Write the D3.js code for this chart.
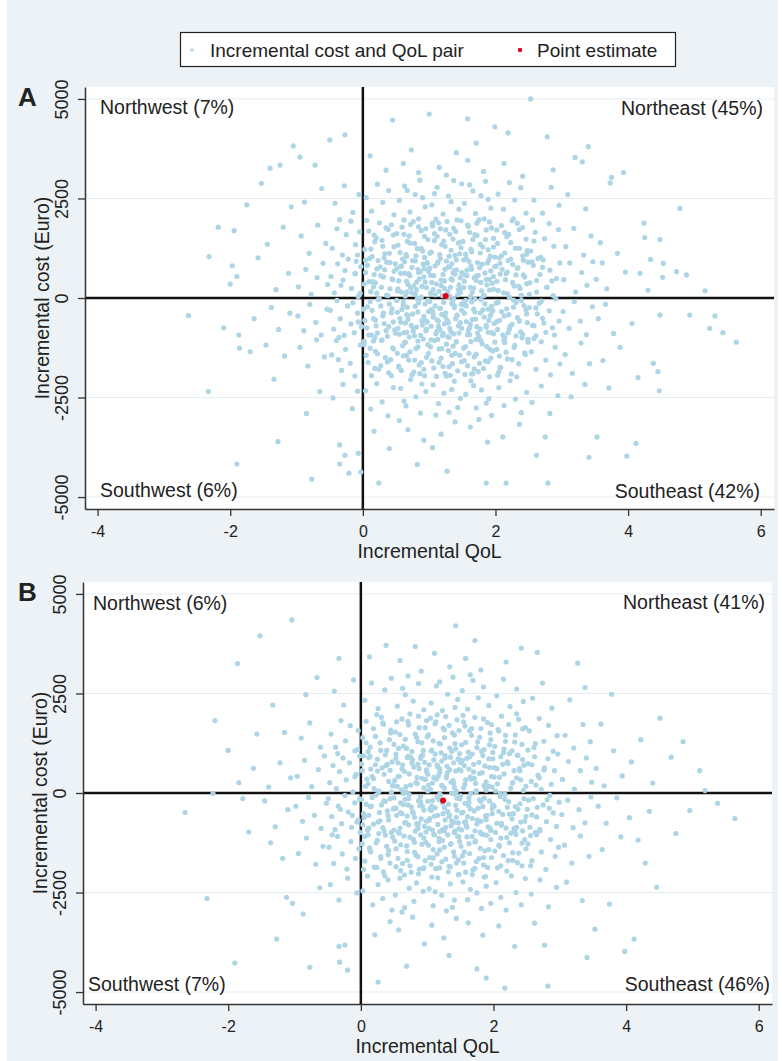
<!DOCTYPE html>
<html>
<head>
<meta charset="utf-8">
<script src="https://cdn.jsdelivr.net/npm/d3@7"></script>
<style>
body { margin: 0; background: #fff; }
svg text { font-family: "Liberation Sans", Arial, sans-serif; fill: #222; }
</style>
</head>
<body>
<svg id="chart" width="782" height="1061"></svg>
<script>
// Chart values
//-------------------------------------------------------
var qolTicks = [-4, -2, 0, 2, 4, 6];
var costTicks = [-5000, -2500, 0, 2500, 5000];
var legendLabels = ["Incremental cost and QoL pair", "Point estimate"];
var quadrantLabelsA = ["Northwest (7%)", "Northeast (45%)", "Southwest (6%)", "Southeast (42%)"];
var quadrantLabelsB = ["Northwest (6%)", "Northeast (41%)", "Southwest (7%)", "Southeast (46%)"];
var estimateA = [1.25, 50];
var estimateB = [1.24, -190];

// bootstrap pairs [incremental QoL, incremental cost]
var pairsA = [
[1.02,120],[1.07,560],[1.13,880],[1.18,310],[1.24,720],[1.29,40],[1.35,450],[1.41,960],[1.46,230],[1.49,640],
[1.04,390],[1.09,810],[1.15,170],[1.21,590],[1.26,930],[1.32,270],[1.38,690],[1.43,80],[1.47,510],[1.11,350],
[1.01,750],[1.06,210],[1.17,990],[1.23,430],[1.28,160],[1.34,860],[1.39,600],[1.45,330],[1.20,60],[1.31,780],
[1.03,1150],[1.08,1620],[1.14,1890],[1.19,1340],[1.25,1710],[1.30,1050],[1.36,1480],[1.42,1960],[1.48,1260],[1.12,1550],
[1.05,1810],[1.16,1090],[1.22,1430],[1.27,1920],[1.33,1200],[1.40,1670],[1.44,1380],[1.10,1980],[1.37,1750],[1.46,1110],
[1.04,2340],[1.12,2780],[1.21,2110],[1.29,2560],[1.37,2950],[1.45,2230],[1.08,2620],[1.33,2420],[1.49,2870],
[1.15,3280],[1.41,3650],[1.26,3090],[1.00,4620],
[1.01,-90],[1.06,-480],[1.12,-830],[1.17,-260],[1.23,-650],[1.28,-970],[1.34,-140],[1.40,-520],[1.45,-880],[1.49,-310],
[1.03,-710],[1.09,-200],[1.14,-580],[1.20,-940],[1.25,-370],[1.31,-760],[1.37,-30],[1.42,-440],[1.47,-620],[1.10,-900],
[1.05,-330],[1.16,-790],[1.22,-110],[1.27,-550],[1.33,-850],[1.38,-240],[1.44,-700],[1.19,-410],[1.30,-990],[1.48,-160],
[1.02,-1230],[1.07,-1760],[1.13,-1040],[1.18,-1510],[1.24,-1890],[1.29,-1320],[1.35,-1650],[1.41,-1100],[1.46,-1440],[1.11,-1970],
[1.04,-1580],[1.15,-1280],[1.21,-1720],[1.26,-1160],[1.32,-1940],[1.39,-1390],[1.43,-1830],[1.08,-1070],[1.36,-1210],[1.49,-1600],
[1.06,-2180],[1.14,-2650],[1.22,-2390],[1.30,-2870],[1.38,-2090],[1.47,-2520],[1.10,-2940],[1.34,-2300],[1.43,-2750],
[1.18,-3420],[1.39,-3110],[1.05,-3760],[1.27,-4350],
[0.52,180],[0.57,620],[0.63,910],[0.68,340],[0.74,770],[0.79,90],[0.85,480],[0.91,850],[0.96,260],[0.99,670],
[0.54,430],[0.60,980],[0.66,150],[0.71,560],[0.77,300],[0.83,720],[0.88,20],[0.94,400],[0.58,800],[0.69,610],
[0.75,940],[0.81,210],[0.87,660],[0.92,530],[0.51,730],[0.64,50],[0.97,890],
[0.53,1330],[0.59,1780],[0.65,1090],[0.70,1560],[0.76,1920],[0.82,1240],[0.88,1690],[0.93,1020],[0.98,1470],[0.56,1140],
[0.62,1600],[0.72,1850],[0.78,1370],[0.84,1990],[0.90,1180],[0.95,1740],[0.67,1420],[0.80,1060],
[0.55,2450],[0.63,2810],[0.71,2160],[0.79,2600],[0.86,2960],[0.94,2290],[0.67,2700],[0.90,2520],
[0.61,3380],[0.84,3150],[0.73,3720],
[0.51,-60],[0.56,-510],[0.62,-870],[0.67,-230],[0.73,-690],[0.78,-950],[0.84,-120],[0.89,-570],[0.95,-820],[0.99,-340],
[0.53,-760],[0.59,-290],[0.64,-630],[0.70,-980],[0.75,-400],[0.81,-730],[0.86,-10],[0.92,-460],[0.97,-600],[0.55,-910],
[0.61,-180],[0.68,-540],[0.76,-840],[0.83,-350],[0.90,-680],[0.94,-150],[0.66,-420],
[0.52,-1390],[0.58,-1820],[0.63,-1120],[0.69,-1560],[0.74,-1930],[0.80,-1270],[0.85,-1680],[0.91,-1030],[0.96,-1490],[0.54,-1710],
[0.60,-1200],[0.71,-1350],[0.77,-1860],[0.83,-1080],[0.88,-1620],[0.93,-1950],[0.66,-1440],[0.98,-1170],
[0.57,-2270],[0.65,-2710],[0.72,-2050],[0.80,-2480],[0.87,-2890],[0.95,-2350],[0.62,-2590],[0.89,-2160],
[0.68,-3310],[0.92,-3570],[0.55,-3080],[0.82,-4180],
[1.52,260],[1.57,700],[1.62,40],[1.68,510],[1.73,890],[1.79,180],[1.84,630],[1.90,960],[1.95,370],[1.99,790],
[1.54,580],[1.60,920],[1.65,140],[1.71,440],[1.76,760],[1.82,60],[1.87,330],[1.93,680],[1.56,990],[1.67,250],
[1.74,570],[1.80,850],[1.86,470],[1.91,200],[1.97,540],[1.63,810],[1.78,390],
[1.51,1420],[1.58,1830],[1.64,1160],[1.69,1590],[1.75,1960],[1.81,1280],[1.86,1710],[1.92,1050],[1.97,1500],[1.55,1100],
[1.61,1650],[1.72,1880],[1.77,1350],[1.83,1990],[1.89,1210],[1.94,1760],[1.66,1470],[1.99,1030],
[1.53,2380],[1.61,2840],[1.70,2120],[1.78,2570],[1.85,2930],[1.93,2260],[1.66,2690],[1.89,2480],
[1.58,3460],[1.82,3180],[1.71,3890],[1.58,4500],[1.99,4300],
[1.51,-170],[1.56,-590],[1.61,-920],[1.67,-280],[1.72,-720],[1.78,-40],[1.83,-480],[1.89,-860],[1.94,-210],[1.98,-640],
[1.53,-380],[1.59,-810],[1.64,-100],[1.70,-530],[1.75,-970],[1.81,-300],[1.86,-690],[1.92,-440],[1.97,-900],[1.55,-60],
[1.62,-660],[1.69,-350],[1.77,-780],[1.84,-150],[1.90,-560],[1.96,-320],[1.73,-880],
[1.52,-1260],[1.58,-1700],[1.63,-1090],[1.68,-1480],[1.74,-1850],[1.80,-1150],[1.85,-1580],[1.91,-1980],[1.96,-1330],[1.54,-1920],
[1.60,-1390],[1.71,-1040],[1.76,-1640],[1.82,-1770],[1.87,-1220],[1.93,-1510],[1.66,-1900],[1.99,-1110],
[1.55,-2420],[1.63,-2080],[1.71,-2760],[1.79,-2310],[1.86,-2640],[1.94,-2950],[1.67,-2200],[1.90,-2530],
[1.62,-3240],[1.88,-3620],[1.75,-3050],[1.86,-4650],
[0.02,350],[0.07,820],[0.12,160],[0.17,590],[0.23,940],[0.28,270],[0.33,710],[0.38,60],[0.44,480],[0.49,860],
[0.04,640],[0.10,990],[0.15,410],[0.21,120],[0.26,780],[0.31,530],[0.36,900],[0.41,230],[0.47,670],[0.19,380],
[0.03,1220],[0.09,1680],[0.14,1040],[0.20,1510],[0.25,1890],[0.30,1300],[0.35,1760],[0.40,1120],[0.46,1580],[0.06,1950],
[0.18,1410],[0.32,1010],[0.43,1840],
[0.05,2520],[0.13,2180],[0.22,2860],[0.30,2400],[0.39,2700],[0.47,2090],
[0.11,3570],[0.35,3210],[0.45,4470],
[0.01,-280],[0.06,-750],[0.11,-90],[0.16,-520],[0.22,-880],[0.27,-200],[0.32,-640],[0.37,-960],[0.43,-370],[0.48,-800],
[0.03,-560],[0.09,-930],[0.14,-310],[0.20,-700],[0.25,-30],[0.30,-450],[0.35,-820],[0.40,-150],[0.46,-600],[0.18,-990],
[0.02,-1170],[0.08,-1620],[0.13,-1950],[0.19,-1340],[0.24,-1790],[0.29,-1060],[0.34,-1500],[0.39,-1880],[0.45,-1250],[0.05,-1440],
[0.16,-1080],[0.27,-1700],[0.42,-1550],
[0.04,-2330],[0.12,-2790],[0.21,-2150],[0.29,-2610],[0.38,-2960],[0.46,-2250],
[0.17,-3350],[0.40,-3780],[0.24,-4650],
[2.02,420],[2.07,870],[2.12,130],[2.18,650],[2.23,980],[2.28,300],[2.34,760],[2.39,70],[2.44,530],[2.49,900],
[2.04,190],[2.10,720],[2.15,460],[2.21,20],[2.26,840],[2.31,580],[2.37,240],[2.42,950],[2.47,360],[2.16,610],
[2.03,1370],[2.09,1820],[2.14,1130],[2.20,1600],[2.25,1940],[2.30,1250],[2.36,1720],[2.41,1060],[2.46,1480],[2.06,1010],
[2.17,1540],[2.33,1880],[2.48,1190],
[2.04,2610],[2.12,2230],[2.21,2900],[2.29,2460],[2.38,2770],[2.46,2130],
[2.13,3380],[2.41,3060],[2.19,4150],
[2.01,-130],[2.06,-560],[2.11,-930],[2.17,-270],[2.22,-710],[2.27,-50],[2.33,-490],[2.38,-850],[2.43,-190],[2.48,-620],
[2.03,-790],[2.09,-340],[2.14,-990],[2.20,-420],[2.25,-660],[2.31,-110],[2.36,-580],[2.41,-910],[2.46,-300],[2.19,-870],
[2.02,-1290],[2.08,-1740],[2.13,-1060],[2.18,-1530],[2.24,-1910],[2.29,-1190],[2.35,-1650],[2.40,-1000],[2.45,-1420],[2.05,-1860],
[2.16,-1360],[2.32,-1980],[2.49,-1110],
[2.05,-2250],[2.13,-2700],[2.22,-2080],[2.30,-2540],[2.39,-2880],[2.47,-2370],
[2.11,-3490],[2.36,-3170],[2.16,-4650],
[-0.48,540],[-0.43,130],[-0.38,860],[-0.33,320],[-0.27,690],[-0.22,980],[-0.17,240],[-0.12,610],[-0.07,40],[-0.03,790],[-0.30,450],[-0.10,920],
[-0.46,1250],[-0.39,1740],[-0.31,1080],[-0.25,1590],[-0.18,1930],[-0.11,1340],[-0.05,1660],[-0.35,1970],
[-0.42,2380],[-0.28,2820],[-0.15,2150],[-0.06,2600],[-0.50,3970],[-0.27,4100],
[-0.49,-310],[-0.44,-780],[-0.39,-60],[-0.34,-520],[-0.28,-940],[-0.23,-200],[-0.18,-650],[-0.13,-870],[-0.08,-380],[-0.02,-720],[-0.36,-990],[-0.15,-120],
[-0.47,-1430],[-0.40,-1070],[-0.32,-1820],[-0.26,-1290],[-0.19,-1640],[-0.12,-1960],[-0.04,-1180],[-0.37,-1550],
[-0.45,-2510],[-0.30,-2170],[-0.16,-2780],[-0.08,-2340],
[-0.35,-3690],[-0.27,-3950],[-0.07,-3900],[-0.21,-4400],[-0.03,-4370],[-0.35,-4170],
[2.52,380],[2.57,820],[2.62,150],[2.67,590],[2.72,960],[2.77,270],[2.82,700],[2.87,60],[2.92,490],[2.97,880],[2.64,990],[2.85,430],
[2.53,1180],[2.60,1650],[2.68,1020],[2.74,1490],[2.81,1870],[2.88,1300],[2.95,1720],[2.56,1960],
[2.58,2460],[2.71,2130],[2.84,2780],[2.96,2330],[2.87,3220],[2.78,4050],[2.53,5000],
[2.51,-240],[2.56,-690],[2.61,-950],[2.66,-130],[2.71,-510],[2.76,-860],[2.81,-320],[2.86,-750],[2.91,-20],[2.96,-580],[2.63,-400],[2.89,-930],
[2.54,-1350],[2.61,-1790],[2.69,-1100],[2.76,-1560],[2.83,-1930],[2.90,-1240],[2.97,-1660],[2.58,-1020],
[2.55,-2620],[2.69,-2210],[2.82,-2900],[2.94,-2450],
[2.62,-3950],[2.75,-3490],[2.79,-4650],
[-0.97,280],[-0.86,720],[-0.78,90],[-0.69,510],[-0.60,870],[-0.53,340],
[-0.93,1560],[-0.81,1120],[-0.68,1830],[-0.56,1370],[-0.88,2410],[-0.62,2750],[-0.95,3540],[-0.72,3340],
[-0.98,-450],[-0.89,-820],[-0.80,-160],[-0.71,-610],[-0.63,-930],[-0.54,-280],
[-0.95,-1240],[-0.83,-1710],[-0.70,-1050],[-0.58,-1480],[-0.85,-2900],[-0.65,-2350],[-0.77,-4550],
[3.03,460],[3.12,880],[3.21,150],[3.30,640],[3.38,320],[3.47,910],
[3.06,1290],[3.18,1750],[3.33,1080],[3.44,1560],[3.09,2600],[3.36,2240],[3.20,3530],[3.31,3420],[3.40,3800],
[3.02,-340],[3.11,-760],[3.19,-90],[3.28,-580],[3.37,-920],[3.46,-220],
[3.05,-1420],[3.16,-1890],[3.29,-1130],[3.42,-1650],[3.14,-2480],[3.35,-2170],[3.41,-4000],
[-1.05,3820],[-1.25,3340],[-1.40,3260],[-1.12,620],[-1.31,210],[-1.44,1350],[-1.20,1780],[-1.08,2290],
[-1.10,-380],[-1.27,-790],[-1.38,-240],[-1.18,-1460],[-1.46,-1180],[-1.28,-3610],[-1.34,-2040],
[3.52,470],[3.61,880],[3.73,2890],[3.75,3030],[3.93,3150],[3.58,1390],[3.68,230],[3.84,1120],[3.96,650],
[3.55,-520],[3.66,-160],[3.78,-890],[3.62,-1570],[3.88,-1240],[3.53,-3490],[3.98,-3970],[3.71,-2260],
[-1.97,810],[-2.00,350],[-1.94,1690],[-1.75,2340],[-1.53,2880],[-1.90,540],[-1.87,-930],[-1.86,-1260],[-1.70,-1350],[-1.64,-520],[-1.58,1010],
[-1.90,-4170],
[4.24,1880],[4.25,1520],[4.48,1470],[4.30,200],[4.18,620],[4.34,970],[4.48,-430],[4.38,-1640],[4.45,-1850],[4.47,-2330],[4.15,-2000],[4.12,-3650],[4.06,-640],
[-2.18,1780],[-2.32,1040],[-2.63,-440],[-2.10,-750],[-2.33,-2350],
[4.78,2250],[4.53,870],[4.73,660],[4.88,580],[5.16,180],[4.93,-430],[5.31,-450],[5.23,-760],[5.43,-870],[5.63,-1110],[4.52,520]
];

// extra pairs in the dense core of panel A
var coreA = [
[0.62,1960],[1.05,1880],[1.48,1940],[1.91,1910],[2.27,1990],
[0.38,1720],[0.84,1790],[1.17,1740],[1.59,1800],[2.02,1710],[2.41,1770],
[0.51,1620],[0.93,1550],[1.31,1600],[1.72,1570],[2.14,1640],[0.17,1580],
[0.29,1450],[0.71,1380],[1.08,1440],[1.46,1400],[1.85,1470],[2.23,1390],[2.58,1430],
[0.12,1230],[0.47,1290],[0.88,1240],[1.24,1300],[1.63,1220],[1.97,1280],[2.36,1250],
[0.33,1110],[0.66,1050],[1.01,1120],[1.39,1070],[1.77,1130],[2.09,1060],[2.47,1100],[-0.08,1080],
[0.04,950],[0.41,890],[0.79,930],[1.13,900],[1.52,960],[1.88,880],[2.19,940],[2.55,910],[0.97,870],
[0.21,730],[0.57,790],[0.93,740],[1.29,780],[1.64,720],[2.01,800],[2.33,750],[2.71,770],[1.41,710],
[-0.11,610],[0.27,560],[0.63,620],[1.02,570],[1.36,630],[1.71,550],[2.07,600],[2.42,580],[0.84,640],[1.57,560],
[0.09,410],[0.45,460],[0.81,400],[1.18,450],[1.53,420],[1.91,470],[2.26,390],[2.62,440],[1.33,480],[0.66,420],
[0.16,280],[0.53,230],[0.89,290],[1.23,240],[1.62,270],[1.97,220],[2.35,300],[0.72,250],[1.44,210],[2.78,270],
[-0.04,120],[0.36,70],[0.74,130],[1.09,80],[1.47,140],[1.83,60],[2.18,110],[2.51,90],[0.58,150],[1.31,50],
[0.23,-40],[0.61,-100],[0.98,-50],[1.35,-90],[1.69,-30],[2.04,-110],[2.39,-60],[0.82,-20],[1.52,-120],[2.69,-80],
[0.07,-220],[0.44,-270],[0.79,-210],[1.16,-260],[1.56,-200],[1.89,-280],[2.27,-230],[2.61,-250],[1.03,-290],[1.38,-190],
[0.31,-380],[0.68,-440],[1.06,-390],[1.42,-430],[1.77,-370],[2.13,-450],[2.47,-400],[0.52,-360],[1.24,-460],[1.93,-420],
[-0.07,-600],[0.19,-550],[0.57,-610],[0.94,-560],[1.29,-620],[1.65,-540],[2.02,-590],[2.36,-570],[2.73,-630],[1.12,-550],
[0.39,-720],[0.76,-770],[1.14,-710],[1.49,-760],[1.86,-730],[2.21,-780],[2.58,-700],[0.96,-790],[1.61,-750],
[0.13,-930],[0.49,-880],[0.87,-940],[1.21,-890],[1.58,-920],[1.95,-870],[2.31,-950],[1.37,-900],[0.66,-860],
[0.28,-1060],[0.64,-1110],[1.03,-1050],[1.41,-1100],[1.78,-1070],[2.14,-1120],[2.49,-1040],[0.02,-1090],
[0.46,-1280],[0.83,-1230],[1.19,-1270],[1.55,-1220],[1.92,-1290],[2.28,-1240],[0.11,-1260],
[0.22,-1400],[0.61,-1450],[0.99,-1390],[1.34,-1440],[1.71,-1410],[2.06,-1460],[2.44,-1380],
[0.37,-1610],[0.78,-1560],[1.15,-1620],[1.53,-1570],[1.89,-1600],[2.25,-1550],
[0.54,-1740],[0.92,-1790],[1.30,-1730],[1.68,-1780],[2.07,-1750],[0.18,-1770],
[0.43,-1950],[0.86,-1900],[1.26,-1960],[1.64,-1910],[2.03,-1940]
];

// bootstrap pairs [incremental QoL, incremental cost]
var pairsB = [
[1.01,470],[1.05,90],[1.10,830],[1.14,350],[1.19,610],[1.23,180],[1.27,940],[1.31,520],[1.36,270],[1.40,760],
[1.44,40],[1.48,590],[1.03,710],[1.08,250],[1.12,980],[1.17,430],[1.22,800],[1.26,120],[1.30,670],[1.35,900],
[1.39,310],[1.43,550],[1.47,860],[1.02,200],[1.16,650],[1.29,380],[1.41,140],[1.49,990],
[1.02,1460],[1.07,1080],[1.13,1790],[1.18,1250],[1.24,1630],[1.28,1920],[1.34,1130],[1.38,1510],[1.45,1840],[1.09,1310],
[1.15,1960],[1.21,1010],[1.33,1700],[1.42,1240],[1.48,1570],[1.05,1880],[1.26,1390],[1.37,1050],
[1.06,2260],[1.14,2690],[1.23,2070],[1.31,2480],[1.39,2910],[1.46,2350],[1.19,2790],[1.42,2150],
[1.11,3510],[1.34,3170],[1.43,4200],
[1.01,-210],[1.04,-640],[1.08,-930],[1.12,-370],[1.16,-790],[1.20,-50],[1.24,-520],[1.28,-860],[1.32,-280],[1.37,-700],
[1.41,-990],[1.45,-430],[1.49,-150],[1.03,-890],[1.07,-330],[1.11,-580],[1.15,-100],[1.19,-970],[1.23,-250],[1.27,-680],
[1.31,-470],[1.36,-820],[1.40,-20],[1.44,-610],[1.48,-900],[1.06,-440],[1.18,-170],[1.26,-950],[1.34,-560],[1.43,-310],[1.47,-750],
[1.02,-1310],[1.06,-1790],[1.10,-1040],[1.15,-1530],[1.19,-1880],[1.23,-1190],[1.28,-1660],[1.32,-1980],[1.36,-1270],[1.41,-1590],
[1.46,-1090],[1.04,-1620],[1.09,-1420],[1.13,-1900],[1.18,-1140],[1.22,-1730],[1.26,-1360],[1.31,-1050],[1.35,-1850],[1.40,-1480],
[1.44,-1760],[1.49,-1220],
[1.03,-2410],[1.09,-2830],[1.16,-2130],[1.22,-2570],[1.29,-2960],[1.35,-2280],[1.41,-2690],[1.47,-2050],[1.12,-2480],[1.38,-2870],
[1.07,-3320],[1.25,-3640],[1.44,-3150],[1.33,-4080],
[0.51,310],[0.56,760],[0.61,80],[0.66,540],[0.71,920],[0.75,200],[0.80,650],[0.85,390],[0.90,870],[0.95,130],
[0.99,580],[0.53,980],[0.58,420],[0.63,710],[0.68,30],[0.73,480],[0.78,830],[0.83,260],[0.88,610],[0.93,950],
[0.97,340],[0.55,170],[0.70,890],[0.86,720],
[0.52,1530],[0.57,1120],[0.62,1860],[0.67,1350],[0.72,1710],[0.77,1040],[0.82,1480],[0.87,1930],[0.92,1260],[0.97,1640],
[0.54,1790],[0.64,1180],[0.74,1990],[0.84,1400],[0.94,1070],[0.99,1820],
[0.55,2180],[0.63,2630],[0.71,2940],[0.79,2310],[0.87,2750],[0.95,2090],[0.67,2470],
[0.59,3330],[0.82,3680],[0.91,3060],
[0.50,-120],[0.54,-560],[0.59,-880],[0.64,-290],[0.68,-740],[0.73,-40],[0.78,-470],[0.82,-960],[0.87,-200],[0.91,-650],
[0.96,-840],[0.52,-380],[0.57,-990],[0.62,-520],[0.67,-160],[0.72,-800],[0.76,-350],[0.81,-610],[0.86,-900],[0.90,-90],
[0.95,-430],[0.99,-710],[0.60,-250],[0.70,-580],[0.84,-770],[0.93,-330],[0.98,-980],
[0.51,-1210],[0.56,-1640],[0.60,-1950],[0.65,-1080],[0.70,-1470],[0.74,-1830],[0.79,-1160],[0.83,-1560],[0.88,-1910],[0.92,-1290],
[0.97,-1700],[0.53,-1400],[0.58,-1010],[0.63,-1770],[0.69,-1330],[0.76,-1990],[0.81,-1240],[0.86,-1600],[0.90,-1050],[0.95,-1880],
[0.52,-2560],[0.59,-2140],[0.66,-2880],[0.73,-2390],[0.80,-2720],[0.87,-2030],[0.94,-2470],[0.62,-2990],[0.84,-2260],
[0.57,-3440],[0.78,-3120],[0.96,-3790],[0.69,-4350],
[1.51,560],[1.55,130],[1.60,870],[1.65,400],[1.70,720],[1.74,60],[1.79,490],[1.84,940],[1.89,280],[1.94,640],
[1.98,150],[1.53,820],[1.58,330],[1.63,600],[1.68,980],[1.73,240],[1.78,770],[1.83,510],[1.88,90],[1.93,860],
[1.97,420],[1.56,690],[1.71,370],[1.86,190],
[1.52,1210],[1.57,1680],[1.62,1030],[1.67,1450],[1.72,1900],[1.76,1280],[1.81,1620],[1.86,1090],[1.91,1770],[1.96,1340],
[1.54,1950],[1.64,1570],[1.75,1140],[1.85,1860],[1.95,1510],[1.99,1020],
[1.53,2570],[1.61,2110],[1.69,2830],[1.77,2390],[1.85,2660],[1.93,2200],[1.65,2970],
[1.58,3380],[1.81,3090],[1.72,3830],
[1.50,-70],[1.54,-480],[1.59,-820],[1.63,-230],[1.68,-640],[1.72,-950],[1.77,-380],[1.81,-710],[1.86,-130],[1.90,-560],
[1.95,-890],[1.99,-300],[1.52,-930],[1.57,-260],[1.61,-590],[1.66,-10],[1.71,-450],[1.75,-780],[1.80,-990],[1.84,-340],
[1.89,-670],[1.94,-200],[1.98,-520],[1.56,-730],[1.65,-400],[1.79,-170],[1.92,-850],
[1.51,-1340],[1.55,-1760],[1.60,-1100],[1.64,-1520],[1.69,-1930],[1.73,-1210],[1.78,-1650],[1.82,-1030],[1.87,-1450],[1.91,-1870],
[1.96,-1170],[1.53,-1580],[1.58,-1990],[1.63,-1270],[1.68,-1090],[1.74,-1720],[1.80,-1390],[1.85,-1810],[1.90,-1060],[1.97,-1620],
[1.54,-2230],[1.61,-2680],[1.68,-2050],[1.75,-2510],[1.82,-2900],[1.89,-2340],[1.96,-2770],[1.65,-2420],[1.86,-2110],
[1.62,-3260],[1.75,-4420],[1.89,-4650],[1.84,-3570],
[0.02,560],[0.07,170],[0.12,890],[0.17,420],[0.22,710],[0.27,50],[0.32,630],[0.37,960],[0.42,290],[0.47,780],
[0.04,940],[0.09,350],[0.15,600],[0.20,110],[0.25,850],[0.35,470],[0.40,720],[0.48,190],
[0.03,1390],[0.08,1800],[0.14,1150],[0.19,1620],[0.24,1970],[0.29,1260],[0.34,1730],[0.39,1070],[0.45,1510],[0.11,1040],
[0.31,1900],[0.43,1340],
[0.06,2330],[0.16,2760],[0.26,2120],[0.36,2590],[0.46,2880],[0.13,3420],[0.38,3710],
[0.01,-160],[0.05,-620],[0.10,-930],[0.14,-340],[0.19,-780],[0.23,-50],[0.28,-490],[0.33,-870],[0.37,-210],[0.42,-680],
[0.46,-990],[0.49,-400],[0.03,-800],[0.08,-280],[0.12,-560],[0.17,-110],[0.26,-730],[0.31,-300],[0.35,-950],[0.40,-450],[0.44,-140],
[0.02,-1280],[0.06,-1710],[0.11,-1050],[0.15,-1480],[0.20,-1860],[0.25,-1190],[0.30,-1600],[0.34,-1980],[0.39,-1340],[0.44,-1760],
[0.48,-1110],[0.04,-1920],[0.13,-1380],[0.27,-1020],[0.41,-1550],
[0.03,-2460],[0.10,-2090],[0.18,-2810],[0.26,-2300],[0.33,-2650],[0.41,-2180],[0.47,-2940],
[0.21,-3560],[0.26,-4750],[0.44,-3230],
[2.01,640],[2.06,230],[2.11,910],[2.16,480],[2.21,780],[2.26,120],[2.31,560],[2.36,950],[2.41,330],[2.46,700],
[2.03,50],[2.09,390],[2.14,720],[2.24,990],[2.29,260],[2.39,610],[2.44,840],[2.49,170],
[2.02,1170],[2.07,1590],[2.12,1930],[2.18,1300],[2.23,1720],[2.28,1060],[2.33,1460],[2.38,1850],[2.43,1220],[2.48,1640],
[2.15,1010],[2.35,1990],
[2.05,2440],[2.15,2860],[2.25,2170],[2.35,2610],[2.45,2300],[2.19,3290],[2.42,3640],
[2.01,-330],[2.05,-760],[2.10,-90],[2.14,-540],[2.19,-880],[2.23,-220],[2.28,-650],[2.32,-970],[2.37,-410],[2.41,-730],
[2.46,-140],[2.49,-590],[2.03,-990],[2.08,-460],[2.12,-810],[2.17,-30],[2.21,-360],[2.30,-520],[2.35,-860],[2.40,-270],[2.44,-950],
[2.02,-1460],[2.06,-1880],[2.11,-1130],[2.15,-1570],[2.20,-1960],[2.24,-1250],[2.29,-1690],[2.34,-1040],[2.38,-1510],[2.43,-1830],
[2.47,-1170],[2.09,-1340],[2.26,-1010],[2.36,-1750],[2.49,-1400],
[2.04,-2250],[2.11,-2620],[2.19,-2940],[2.27,-2080],[2.34,-2500],[2.42,-2810],[2.48,-2150],
[2.17,-4900],[2.32,-3850],[2.08,-3340],
[-0.47,260],[-0.42,690],[-0.37,110],[-0.32,540],[-0.27,880],[-0.22,330],[-0.17,760],[-0.12,30],[-0.07,470],[-0.02,930],[-0.35,990],
[-0.45,1480],[-0.38,1150],[-0.30,1820],[-0.23,1310],[-0.16,1690],[-0.09,1060],[-0.04,1570],
[-0.40,2560],[-0.26,2210],[-0.11,2840],[-0.33,3380],
[-0.49,-140],[-0.44,-590],[-0.39,-920],[-0.34,-330],[-0.29,-770],[-0.24,-60],[-0.19,-480],[-0.14,-860],[-0.09,-250],[-0.04,-680],
[-0.01,-990],[-0.31,-410],[-0.13,-560],
[-0.48,-1360],[-0.41,-1770],[-0.35,-1090],[-0.28,-1530],[-0.21,-1910],[-0.15,-1220],[-0.08,-1640],[-0.03,-1400],[-0.43,-1050],
[-0.46,-2300],[-0.33,-2690],[-0.20,-2140],[-0.06,-2510],
[-0.33,-3850],[-0.24,-3820],[-0.32,-4250],[-0.20,-4450],
[2.52,740],[2.57,290],[2.62,910],[2.67,450],[2.72,100],[2.77,630],[2.82,860],[2.87,220],[2.92,560],[2.97,980],[2.69,380],
[2.54,1560],[2.61,1140],[2.69,1870],[2.76,1300],[2.83,1700],[2.90,1050],[2.96,1440],
[2.59,2380],[2.74,2760],[2.88,2130],[2.66,3530],
[2.51,-410],[2.55,-860],[2.60,-140],[2.65,-600],[2.70,-950],[2.75,-300],[2.80,-720],[2.85,-60],[2.90,-500],[2.95,-840],
[2.99,-230],[2.63,-990],[2.84,-380],
[2.52,-1280],[2.58,-1700],[2.65,-1050],[2.72,-1480],[2.79,-1920],[2.86,-1170],[2.93,-1590],[2.98,-1360],[2.56,-1830],
[2.57,-2540],[2.70,-2180],[2.83,-2860],[2.95,-2370],
[2.62,-3270],[2.77,-3820],[2.82,-4850],
[-0.96,420],[-0.85,820],[-0.74,160],[-0.64,590],[-0.55,930],[-0.90,1380],[-0.77,1760],[-0.61,1150],[-0.83,2470],[-0.66,2900],
[-0.98,-330],[-0.88,-710],[-0.79,-110],[-0.70,-560],[-0.60,-890],[-0.52,-260],[-0.94,-1520],[-0.82,-1130],[-0.68,-1790],[-0.57,-1340],
[-0.87,-3040],[-0.62,-2380],[-0.77,-4380],
[3.04,340],[3.13,790],[3.22,100],[3.31,560],[3.40,880],[3.48,270],[3.08,1450],[3.21,1130],[3.35,1720],[3.46,1290],
[3.15,2340],[3.38,2650],[3.27,3260],
[3.03,-540],[3.12,-180],[3.20,-870],[3.29,-420],[3.38,-750],[3.47,-100],[3.07,-1310],[3.18,-1760],[3.31,-1080],[3.44,-1590],
[3.10,-2240],[3.34,-2700],[3.41,-4130],
[-1.06,380],[-1.22,760],[-1.39,150],[-1.15,1520],[-1.33,2210],[-1.04,4350],[-1.10,-420],[-1.29,-850],[-1.45,-200],[-1.18,-1640],
[-1.36,-1250],[-1.12,-2620],[-1.03,-2770],[-1.27,-3670],
[3.55,620],[3.67,180],[3.81,1060],[3.62,1730],[3.94,430],[3.58,-330],[3.70,-760],[3.86,-120],[3.64,-1420],[3.92,-1100],
[3.75,-2790],[3.53,-3420],[3.98,-3980],[3.78,2480],
[-1.52,3950],[-1.86,3250],[-2.00,1070],[-1.62,620],[-1.78,-140],[-1.69,-980],[-1.90,-4270],[-1.57,1480],[-1.84,260],
[4.51,1880],[4.12,-3670],[4.46,-2370],[4.08,780],[4.22,1340],[4.35,-460],[4.18,-1180],[4.40,250],[4.29,-1760],[4.05,-620],
[-2.20,1820],[-2.65,-490],[-2.23,-10],[-2.32,-2650],
[4.86,1290],[5.11,560],[5.19,60],[5.38,-260],[5.64,-640],[4.96,-440],[4.68,900],[4.75,-1020]
];

// extra pairs in the dense core of panel B
var coreB = [
[0.71,1800],[1.12,1740],[1.55,1790],[1.97,1720],[0.33,1760],
[0.45,1580],[0.88,1640],[1.26,1590],[1.67,1620],[2.08,1560],[2.44,1610],
[0.22,1420],[0.59,1470],[1.00,1410],[1.41,1460],[1.79,1400],[2.18,1450],
[0.08,1260],[0.50,1220],[0.86,1290],[1.20,1230],[1.58,1270],[1.94,1210],[2.32,1280],[2.63,1240],
[0.30,1070],[0.69,1120],[1.06,1060],[1.43,1110],[1.82,1050],[2.16,1100],[2.52,1080],[-0.05,1090],
[0.14,920],[0.53,870],[0.91,930],[1.27,880],[1.64,910],[1.99,860],[2.37,940],[0.75,900],[1.47,850],
[0.01,730],[0.38,690],[0.77,750],[1.15,700],[1.51,760],[1.87,680],[2.22,740],[2.58,710],[0.96,770],
[0.25,550],[0.62,600],[0.99,540],[1.34,590],[1.70,530],[2.05,610],[2.40,560],[2.76,580],[1.19,520],[0.44,570],
[-0.09,410],[0.19,360],[0.56,420],[0.92,370],[1.29,430],[1.66,350],[2.01,400],[2.35,380],[2.68,420],[1.10,390],
[0.11,230],[0.48,180],[0.85,240],[1.22,190],[1.57,220],[1.93,170],[2.29,250],[2.64,200],[0.68,160],[1.40,250],
[0.27,40],[0.64,-10],[1.01,50],[1.37,0],[1.74,30],[2.10,-20],[2.45,60],[0.46,20],[1.19,-30],[1.89,70],
[-0.02,-150],[0.35,-200],[0.72,-140],[1.08,-190],[1.45,-130],[1.81,-210],[2.17,-160],[2.53,-180],[0.90,-220],[1.63,-120],[2.81,-170],
[0.16,-330],[0.53,-380],[0.89,-320],[1.26,-370],[1.62,-310],[1.98,-390],[2.33,-340],[2.66,-360],[1.04,-400],[0.71,-300],
[0.04,-520],[0.41,-570],[0.79,-510],[1.16,-560],[1.52,-500],[1.88,-580],[2.24,-530],[2.58,-550],[1.33,-590],[0.60,-490],
[0.29,-700],[0.66,-750],[1.03,-690],[1.40,-740],[1.76,-680],[2.12,-760],[2.47,-710],[0.87,-770],[1.58,-720],[-0.06,-730],
[0.12,-880],[0.50,-930],[0.86,-870],[1.23,-920],[1.60,-860],[1.96,-940],[2.31,-890],[2.70,-910],[1.42,-950],
[0.37,-1060],[0.74,-1110],[1.11,-1050],[1.48,-1100],[1.84,-1040],[2.20,-1120],[2.56,-1070],[0.06,-1090],[0.95,-1130],
[0.23,-1250],[0.60,-1300],[0.98,-1240],[1.35,-1290],[1.72,-1230],[2.08,-1310],[2.43,-1260],[1.18,-1220],
[0.42,-1440],[0.81,-1490],[1.19,-1430],[1.56,-1480],[1.93,-1420],[2.29,-1500],[0.14,-1460],
[0.30,-1640],[0.70,-1690],[1.09,-1630],[1.47,-1680],[1.85,-1620],[2.22,-1700],
[0.53,-1850],[0.94,-1900],[1.33,-1840],[1.72,-1890],[2.11,-1830],[0.24,-1870],
[0.66,-2060],[1.07,-2110],[1.48,-2050],[1.88,-2100],[0.36,-2080]
];

// Layout
//-------------------------------------------------------
var svg = d3.select("#chart");

svg.append("rect")
    .attr("x", 7).attr("y", 0)
    .attr("width", 771).attr("height", 1061)
    .attr("fill", "#ecf2f6");

var plotWidth = 689;
var plotHeight = 422;

var xScale = d3.scaleLinear().domain([-4.19, 6.2]).range([0, plotWidth]);
var yScale = d3.scaleLinear().domain([-5300, 5300]).range([plotHeight, 0]);

var pointColor = "#add5e5";
var estimateColor = "#e2001a";

// Legend
//-------------------------------------------------------
var legend = svg.append("g");
legend.append("rect")
    .attr("x", 180.5).attr("y", 32.5)
    .attr("width", 495).attr("height", 34)
    .attr("fill", "#fff")
    .attr("stroke", "#222")
    .attr("stroke-width", 1.2);
legend.append("circle").attr("cx", 192).attr("cy", 50).attr("r", 1.8).attr("fill", pointColor);
legend.append("text").attr("x", 210).attr("y", 57).attr("font-size", "19px").text(legendLabels[0]);
legend.append("circle").attr("cx", 520).attr("cy", 50).attr("r", 2.2).attr("fill", estimateColor);
legend.append("text").attr("x", 537).attr("y", 57).attr("font-size", "19px").text(legendLabels[1]);

// One panel of the cost-effectiveness plane
//-------------------------------------------------------
function drawPanel(left, top, letter, pairs, estimate, labels, labelSpots) {

    var g = svg.append("g")
        .attr("transform", `translate(${left}, ${top})`);

    g.append("rect")
        .attr("width", plotWidth).attr("height", plotHeight)
        .attr("fill", "#fff");

    // faint horizontal grid
    g.selectAll(".grid").data(costTicks).enter()
        .append("line")
        .attr("x1", 0).attr("x2", plotWidth)
        .attr("y1", d => yScale(d)).attr("y2", d => yScale(d))
        .attr("stroke", "#e6edf1")
        .attr("stroke-width", 1);

    // quadrant lines
    g.append("line")
        .attr("x1", xScale(0)).attr("x2", xScale(0))
        .attr("y1", 0).attr("y2", plotHeight)
        .attr("stroke", "#111").attr("stroke-width", 2.5);
    g.append("line")
        .attr("x1", 0).attr("x2", plotWidth)
        .attr("y1", yScale(0)).attr("y2", yScale(0))
        .attr("stroke", "#111").attr("stroke-width", 2.5);

    // bootstrap cloud
    g.selectAll(".pair").data(pairs).enter()
        .append("circle")
        .attr("cx", d => xScale(d[0]))
        .attr("cy", d => yScale(d[1]))
        .attr("r", 2.6)
        .attr("fill", pointColor);

    // axes
    var bottomAxis = d3.axisBottom(xScale).tickValues(qolTicks)
        .tickFormat(d => String(d)).tickSize(7).tickSizeOuter(0);
    var leftAxis = d3.axisLeft(yScale).tickValues(costTicks)
        .tickFormat(d => String(d)).tickSize(7).tickSizeOuter(0);

    var xAxis = g.append("g")
        .attr("transform", `translate(0, ${plotHeight})`)
        .call(bottomAxis);
    xAxis.selectAll("text")
        .attr("y", 28).attr("dy", 0)
        .attr("font-size", "16px")
        .attr("font-family", "Liberation Sans, Arial, sans-serif")
        .attr("fill", "#222");

    var yAxis = g.append("g").call(leftAxis);
    yAxis.selectAll("text")
        .attr("transform", "rotate(-90)")
        .attr("x", 0).attr("y", -17).attr("dy", 0)
        .attr("text-anchor", "middle")
        .attr("font-size", "18px")
        .attr("font-family", "Liberation Sans, Arial, sans-serif")
        .attr("fill", "#222");

    [xAxis, yAxis].forEach(function(ax) {
        ax.select(".domain").attr("stroke", "#333").attr("stroke-width", 1.5);
        ax.selectAll(".tick line").attr("stroke", "#333").attr("stroke-width", 1.3);
    });

    // axis titles
    g.append("text")
        .attr("x", plotWidth / 2).attr("y", plotHeight + 49)
        .attr("text-anchor", "middle")
        .attr("font-size", "19.5px")
        .text("Incremental QoL");
    g.append("text")
        .attr("transform", `translate(${-36}, ${plotHeight / 2}) rotate(-90)`)
        .attr("text-anchor", "middle")
        .attr("font-size", "19.5px")
        .text("Incremental cost (Euro)");

    // panel letter
    g.append("text")
        .attr("x", 18 - left).attr("y", 19)
        .attr("font-size", "26px")
        .attr("font-weight", "bold")
        .attr("fill", "#111")
        .text(letter);

    // quadrant shares
    labels.forEach(function(lab, i) {
        var spot = labelSpots[i];
        g.append("text")
            .attr("x", spot[0]).attr("y", spot[1])
            .attr("text-anchor", spot[2])
            .attr("font-size", "19.5px")
            .text(lab);
    });

    // point estimate
    g.append("circle")
        .attr("cx", xScale(estimate[0]))
        .attr("cy", yScale(estimate[1]))
        .attr("r", 3)
        .attr("fill", estimateColor);
}

drawPanel(85, 87, "A", pairsA.concat(coreA), estimateA, quadrantLabelsA,
    [[15, 27, "start"], [678, 28, "end"], [15, 410, "start"], [675, 411, "end"]]);

drawPanel(83, 582, "B", pairsB.concat(coreB), estimateB, quadrantLabelsB,
    [[10, 28, "start"], [682, 27, "end"], [5, 409, "start"], [687, 409, "end"]]);
</script>
</body>
</html>
